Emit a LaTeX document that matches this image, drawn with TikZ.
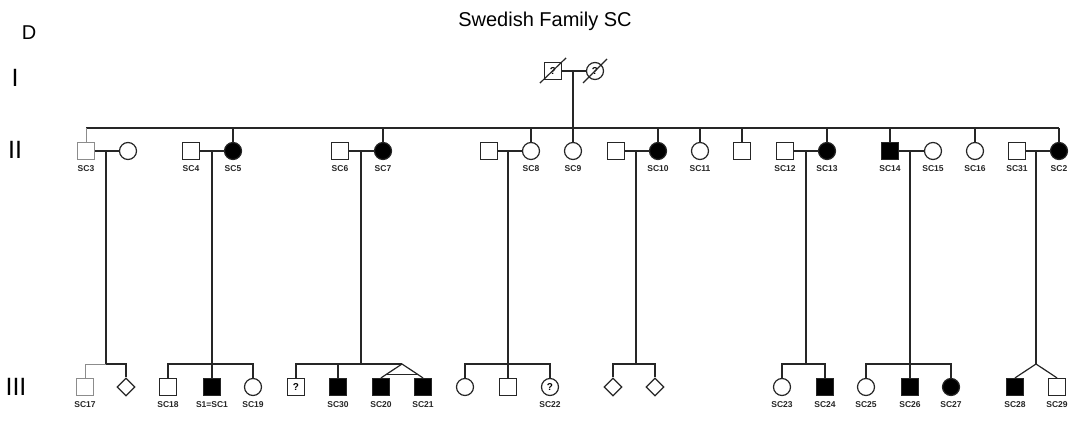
\documentclass[tikz,border=0pt]{standalone}
\usepackage{fontspec}
\setmainfont{Liberation Sans}
\usetikzlibrary{shapes.geometric,calc}
\begin{document}
\begin{tikzpicture}[x=1pt,y=-1pt,
  ln/.style={line width=1.2pt, draw=black!85},
  fl/.style={line width=1pt, draw=black!45},
  male/.style={draw=black!85, rectangle, minimum size=17pt, inner sep=0pt, line width=1.2pt},
  female/.style={draw=black!85, circle, minimum size=17pt, inner sep=0pt, line width=1.2pt},
  unk/.style={draw=black!85, diamond, minimum size=18pt, inner sep=0pt, line width=1.2pt},
  aff/.style={fill=black},
  faint/.style={draw=black!45},
  qm/.style={font=\fontsize{10}{10}\selectfont\bfseries},
  lbl/.style={font=\fontsize{8.5}{9}\selectfont\bfseries, inner sep=0pt, text=black!85},
  gen/.style={font=\fontsize{25}{25}\selectfont, inner sep=0pt, anchor=base}
]
\useasboundingbox (0,0) rectangle (1072,428);
% titles
\node[font=\fontsize{20}{20}\selectfont, anchor=base, inner sep=0pt] (title) at (545,27) {Swedish Family SC};
\node[font=\fontsize{20}{20}\selectfont, anchor=base, inner sep=0pt] (D) at (29,40) {D};
\node[gen] (gI) at (15,87) {I};
\node[gen] (gII) at (15,158) {II};
\node[gen] (gIII) at (16,395) {III};
% generation I
\node[male, qm] (g1m) at (553,71) {?};
\node[female, qm] (g1f) at (595,71) {?};
\draw[ln] ([shift={(-4,3)}]g1m.south west) -- ([shift={(4,-4)}]g1m.north east);
\draw[ln] ([shift={(-12,12)}]g1f.center) -- ([shift={(12,-12)}]g1f.center);
\draw[ln] (g1m) -- (g1f);
\coordinate (g1c) at (573,71);
% generation II
\node[male, faint] (sc3) at (86,151) {};
\node[female] (w3) at (128,151) {};
\node[male] (sc4) at (191,151) {};
\node[female, aff] (sc5) at (233,151) {};
\node[male] (sc6) at (340,151) {};
\node[female, aff] (sc7) at (383,151) {};
\node[male] (h8) at (489,151) {};
\node[female] (sc8) at (531,151) {};
\node[female] (sc9) at (573,151) {};
\node[male] (h10) at (616,151) {};
\node[female, aff] (sc10) at (658,151) {};
\node[female] (sc11) at (700,151) {};
\node[male] (u1) at (742,151) {};
\node[male] (sc12) at (785,151) {};
\node[female, aff] (sc13) at (827,151) {};
\node[male, aff] (sc14) at (890,151) {};
\node[female] (sc15) at (933,151) {};
\node[female] (sc16) at (975,151) {};
\node[male] (sc31) at (1017,151) {};
\node[female, aff] (sc2) at (1059,151) {};
\coordinate (sibL) at (86,128);
\coordinate (sibR) at (1059,128);
\draw[ln] (sibL) -- (sibR);
\draw[fl] (sibL) -- (sc3.north);
\draw[ln] (g1c) -- (sc9.north);
\foreach \n in {sc5,sc7,sc8,sc10,sc11,u1,sc13,sc14,sc16,sc2}
  \draw[ln] (\n.north |- sibL) -- (\n.north);
% couples
\draw[ln] (sc3) -- (w3);
\draw[ln] (sc4) -- (sc5);
\draw[ln] (sc6) -- (sc7);
\draw[ln] (h8) -- (sc8);
\draw[ln] (h10) -- (sc10);
\draw[ln] (sc12) -- (sc13);
\draw[ln] (sc14) -- (sc15);
\draw[ln] (sc31) -- (sc2);
% labels II
\foreach \n/\x/\t in {l3/86/SC3,l4/191/SC4,l5/233/SC5,l6/340/SC6,l7/383/SC7,l8/531/SC8,l9/573/SC9,l10/658/SC10,l11/700/SC11,l12/785/SC12,l13/827/SC13,l14/890/SC14,l15/933/SC15,l16/975/SC16,l31/1017/SC31,l2/1059/SC2}
  \node[lbl] (\n) at (\x,169) {\t};
% generation III
\node[male, faint] (sc17) at (85,387) {};
\node[unk] (d1) at (126,387) {};
\node[male] (sc18) at (168,387) {};
\node[male, aff] (sc1) at (212,387) {};
\node[female] (sc19) at (253,387) {};
\node[male, qm] (q1) at (296,387) {?};
\node[male, aff] (sc30) at (338,387) {};
\node[male, aff] (sc20) at (381,387) {};
\node[male, aff] (sc21) at (423,387) {};
\node[female] (c1) at (465,387) {};
\node[male] (m1) at (508,387) {};
\node[female, qm] (sc22) at (550,387) {?};
\node[unk] (d2) at (613,387) {};
\node[unk] (d3) at (655,387) {};
\node[female] (sc23) at (782,387) {};
\node[male, aff] (sc24) at (825,387) {};
\node[female] (sc25) at (866,387) {};
\node[male, aff] (sc26) at (910,387) {};
\node[female, aff] (sc27) at (951,387) {};
\node[male, aff] (sc28) at (1015,387) {};
\node[male] (sc29) at (1057,387) {};
% descent coordinates
\coordinate (c3) at (106,151);   \coordinate (s3) at (106,364);
\coordinate (c5) at (212,151);   \coordinate (s5) at (212,364);
\coordinate (c7) at (361,151);   \coordinate (s7) at (361,364);
\coordinate (c8) at (508,151);   \coordinate (s8) at (508,364);
\coordinate (c10) at (636,151);  \coordinate (s10) at (636,364);
\coordinate (c13) at (806,151);  \coordinate (s13) at (806,364);
\coordinate (c15) at (910,151);  \coordinate (s15) at (910,364);
\coordinate (c2) at (1036,151);  \coordinate (tw2) at (1036,364);
\coordinate (tw) at (402,364);
\foreach \a/\b in {c3/s3,c5/s5,c7/s7,c8/s8,c10/s10,c13/s13,c15/s15,c2/tw2}
  \draw[ln] (\a) -- (\b);
\draw[fl] (sc17.north) |- (s3);
\draw[ln] (s3) -| (d1.north);
\draw[ln] (sc18.north) |- (s5) -| (sc19.north);
\draw[ln] (s5) -- (sc1.north);
\draw[ln] (q1.north) |- (tw);
\draw[ln] (sc30.north |- tw) -- (sc30.north);
\draw[ln] (sc20.north) -- (tw) -- (sc21.north);
\draw[ln] ($(tw)!0.78!(sc20.north)$) -- ($(tw)!0.78!(sc21.north)$);
\draw[ln] (c1.north) |- (s8) -| (sc22.north);
\draw[ln] (s8) -- (m1.north);
\draw[ln] (d2.north) |- (s10) -| (d3.north);
\draw[ln] (sc23.north) |- (s13) -| (sc24.north);
\draw[ln] (sc25.north) |- (s15) -| (sc27.north);
\draw[ln] (s15) -- (sc26.north);
\draw[ln] (sc28.north) -- (tw2) -- (sc29.north);
% labels III
\foreach \n/\x/\t in {k17/85/SC17,k18/168/SC18,k1/212/S1=SC1,k19/253/SC19,k30/338/SC30,k20/381/SC20,k21/423/SC21,k22/550/SC22,k23/782/SC23,k24/825/SC24,k25/866/SC25,k26/910/SC26,k27/951/SC27,k28/1015/SC28,k29/1057/SC29}
  \node[lbl] (\n) at (\x,405) {\t};
\end{tikzpicture}
\end{document}
